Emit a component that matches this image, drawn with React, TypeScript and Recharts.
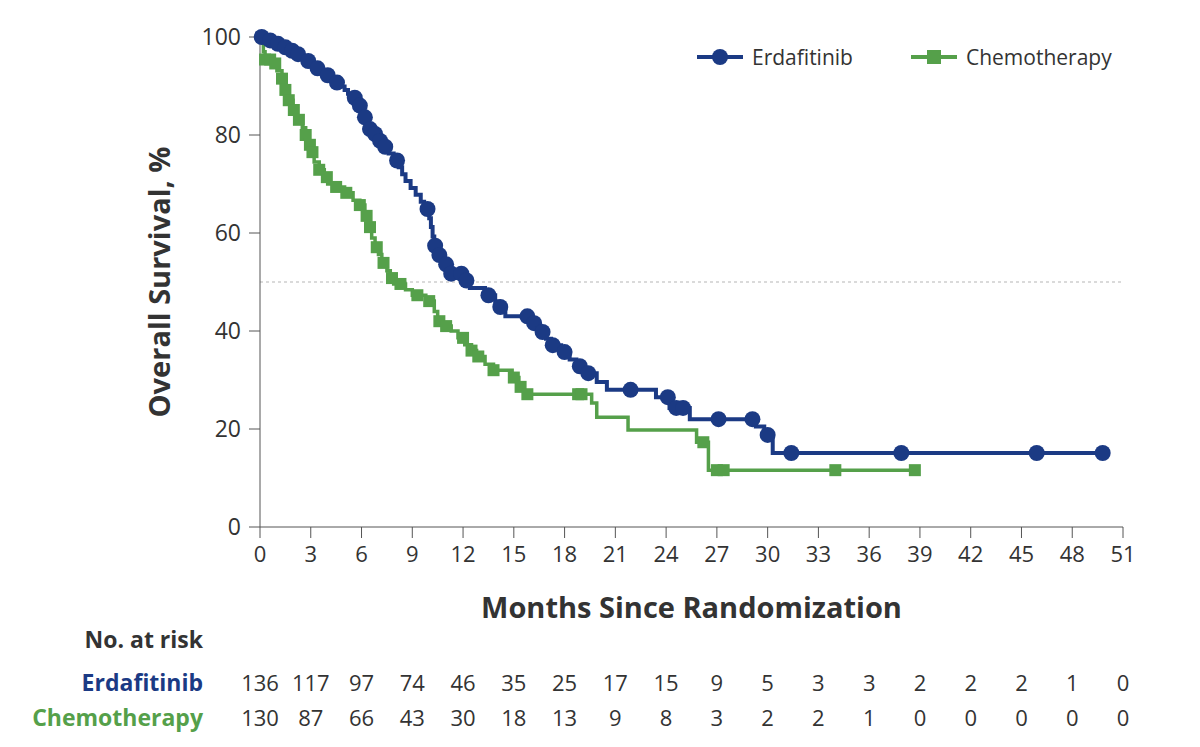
import {
  ComposedChart,
  Line,
  Scatter,
  XAxis,
  YAxis,
  ReferenceLine,
} from 'recharts';

const BLUE = '#1b3a84';
const GREEN = '#55a04a';
const TEXT = '#333333';

// x axis ticks (months)
const months = [0, 3, 6, 9, 12, 15, 18, 21, 24, 27, 30, 33, 36, 39, 42, 45, 48, 51];
const survivalTicks = [0, 20, 40, 60, 80, 100];

// number at risk, one value per month tick
const erdaRisk = [136, 117, 97, 74, 46, 35, 25, 17, 15, 9, 5, 3, 3, 2, 2, 2, 1, 0];
const chemoRisk = [130, 87, 66, 43, 30, 18, 13, 9, 8, 3, 2, 2, 1, 0, 0, 0, 0, 0];

// Kaplan-Meier steps: [month, survival % from that month on]
const erdaSteps: [number, number][] = [
  [0, 100], [0.4, 99.3], [0.9, 98.6], [1.3, 97.9], [1.7, 97.2], [2.1, 96.5],
  [2.5, 95.8], [2.7, 95.1], [3.1, 94.4], [3.3, 93.6], [3.6, 92.9], [3.8, 92.2],
  [4.2, 91.4], [4.4, 90.7], [4.8, 89.9], [5.0, 89.2], [5.2, 88.4], [5.5, 87.6],
  [5.8, 86.0], [6.0, 84.4], [6.15, 83.6], [6.3, 82.0], [6.45, 81.2], [6.6, 80.2],
  [7.0, 78.8], [7.3, 77.6], [7.6, 76.2], [7.9, 74.8], [8.2, 73.4], [8.4, 72.0],
  [8.6, 70.6], [8.9, 69.2], [9.2, 67.8], [9.5, 66.4], [9.7, 64.9], [10.0, 63.0],
  [10.1, 61.2], [10.2, 59.3], [10.3, 57.4], [10.5, 55.5], [10.8, 53.6], [11.1, 51.7],
  [12.1, 50.3], [12.4, 48.8], [13.3, 47.3], [13.9, 46.0], [14.1, 44.9], [14.5, 43.0],
  [16.0, 41.6], [16.5, 39.8], [16.9, 38.4], [17.2, 37.1], [17.8, 35.7], [18.3, 34.2],
  [18.7, 32.8], [19.2, 31.4], [19.9, 29.6], [20.5, 28.0], [23.4, 26.5], [24.2, 24.3],
  [25.4, 22.0], [29.3, 20.5], [29.8, 18.8], [30.3, 15.1], [49.8, 15.1],
];
const erdaCensored = [
  0.1, 0.6, 1.06, 1.5, 1.9, 2.25, 2.85, 3.4, 4.0, 4.55, 5.6, 5.9, 6.2, 6.5, 6.8,
  7.1, 7.4, 8.1, 9.9, 10.35, 10.6, 11.0, 11.3, 11.9, 12.2, 13.5, 14.2, 15.8, 16.2,
  16.7, 17.3, 18.0, 18.9, 19.4, 21.9, 24.1, 24.6, 25.0, 27.1, 29.1, 30.0, 31.4,
  37.9, 45.9, 49.8,
];

const chemoSteps: [number, number][] = [
  [0, 100], [0.2, 97.0], [0.3, 95.4], [0.7, 94.6], [1.0, 93.1], [1.3, 91.5],
  [1.5, 89.2], [1.65, 87.1], [1.95, 85.1], [2.2, 83.1], [2.5, 81.5], [2.7, 80.0],
  [2.9, 78.0], [3.05, 76.5], [3.2, 74.5], [3.5, 72.9], [3.8, 71.4], [4.0, 70.0],
  [4.5, 69.4], [5.0, 68.2], [5.5, 66.7], [5.9, 65.7], [6.2, 63.5], [6.4, 61.2],
  [6.6, 59.0], [6.8, 57.1], [7.0, 55.6], [7.2, 53.9], [7.5, 52.3], [7.7, 50.8],
  [7.9, 49.6], [8.6, 48.4], [9.0, 47.3], [9.8, 46.1], [10.3, 44.0], [10.5, 42.0],
  [10.8, 41.0], [11.3, 40.0], [11.7, 38.6], [12.1, 37.2], [12.5, 36.0], [12.8, 34.8],
  [13.3, 33.2], [13.8, 32.0], [14.9, 30.5], [15.3, 28.6], [15.6, 27.1], [19.6, 25.3],
  [19.9, 22.4], [21.75, 19.8], [25.8, 17.3], [26.5, 11.6], [38.7, 11.6],
];
const chemoCensored = [
  0.3, 0.6, 0.9, 1.3, 1.5, 1.7, 2.0, 2.3, 2.7, 2.95, 3.1, 3.5, 3.95, 4.5, 5.1,
  5.9, 6.3, 6.5, 6.9, 7.3, 7.8, 8.3, 9.3, 10.0, 10.6, 11.0, 12.0, 12.5, 12.9,
  13.8, 15.0, 15.4, 15.8, 18.8, 19.0, 26.2, 27.0, 27.4, 34.0, 38.7,
];

const toPoints = (steps: [number, number][]) => steps.map(([t, s]) => ({ t, s }));

// censored marks sit on the curve: look up the step level at that month
const levelAt = (steps: [number, number][], m: number) => {
  let s = steps[0][1];
  for (const [t, v] of steps) {
    if (t <= m) s = v;
  }
  return s;
};
const censorPoints = (steps: [number, number][], times: number[]) =>
  times.map((t) => ({ t, s: levelAt(steps, t) }));

const erdaLine = toPoints(erdaSteps);
const chemoLine = toPoints(chemoSteps);
const erdaMarks = censorPoints(erdaSteps, erdaCensored);
const chemoMarks = censorPoints(chemoSteps, chemoCensored);

const MonthTick = (props: any) => {
  const { x, y, payload, index } = props;
  return (
    <g fontFamily="Open Sans" fill={TEXT}>
      <text x={x} y={y + 24} textAnchor="middle" fontSize={22} fill={TEXT}>
        {payload.value}
      </text>
      <text x={x} y={y + 153} textAnchor="middle" fontSize={22} fill={TEXT}>
        {erdaRisk[index]}
      </text>
      <text x={x} y={y + 188} textAnchor="middle" fontSize={22} fill={TEXT}>
        {chemoRisk[index]}
      </text>
      {index === 0 && (
        <g fontWeight={700} fontSize={23} textAnchor="end">
          <text x={x - 57} y={y + 110} fill={TEXT}>No. at risk</text>
          <text x={x - 57} y={y + 153} fill={BLUE}>Erdafitinib</text>
          <text x={x - 57} y={y + 188} fill={GREEN}>Chemotherapy</text>
        </g>
      )}
    </g>
  );
};

const Circle = (p: any) => <circle cx={p.cx} cy={p.cy} r={8} fill={BLUE} />;
const Square = (p: any) => <rect x={p.cx - 6} y={p.cy - 6} width={12} height={12} fill={GREEN} />;

function LegendBox() {
  const item = (color: string, label: string, mark: 'circle' | 'square') => (
    <div style={{ display: 'flex', alignItems: 'center', marginRight: 57 }}>
      <svg width={48} height={20}>
        <line x1={1} y1={10} x2={47} y2={10} stroke={color} strokeWidth={4} />
        {mark === 'circle' ? (
          <circle cx={24} cy={10} r={8} fill={color} />
        ) : (
          <rect x={17} y={3} width={14} height={14} fill={color} />
        )}
      </svg>
      <span style={{ marginLeft: 8, fontSize: 21, color: TEXT }}>{label}</span>
    </div>
  );
  return (
    <div
      style={{
        position: 'absolute',
        left: 696,
        top: 43,
        display: 'flex',
        fontFamily: 'Open Sans',
      }}
    >
      {item(BLUE, 'Erdafitinib', 'circle')}
      {item(GREEN, 'Chemotherapy', 'square')}
    </div>
  );
}

export default function App() {
  return (
    <div
      style={{
        position: 'absolute',
        left: 0,
        top: 0,
        width: 1200,
        height: 747,
        background: '#fff',
        fontFamily: 'Open Sans',
      }}
    >
      <ComposedChart
        width={1200}
        height={747}
        margin={{ top: 37, right: 77, left: 140, bottom: 120 }}
      >
        <XAxis
          type="number"
          dataKey="t"
          domain={[0, 51]}
          ticks={months}
          interval={0}
          height={100}
          tickSize={11}
          tickMargin={0}
          axisLine={{ stroke: '#555' }}
          tickLine={{ stroke: '#555' }}
          tick={<MonthTick />}
          label={{
            value: 'Months Since Randomization',
            position: 'insideBottom',
            offset: 9,
            style: { fontSize: 29, fontWeight: 700, fill: TEXT, fontFamily: 'Open Sans' },
          }}
        />
        <YAxis
          type="number"
          dataKey="s"
          domain={[0, 100]}
          ticks={survivalTicks}
          interval={0}
          width={120}
          tickSize={11}
          tickMargin={8}
          axisLine={{ stroke: '#555' }}
          tickLine={{ stroke: '#555' }}
          tick={{ fontSize: 23, fill: TEXT, fontFamily: 'Open Sans' }}
          label={{
            value: 'Overall Survival, %',
            angle: -90,
            position: 'insideLeft',
            offset: 20,
            style: {
              textAnchor: 'middle',
              fontSize: 29,
              fontWeight: 700,
              fill: TEXT,
              fontFamily: 'Open Sans',
            },
          }}
        />
        <ReferenceLine y={50} stroke="#b5b5b5" strokeDasharray="3 3" strokeWidth={1} />
        <Line
          data={chemoLine}
          dataKey="s"
          type="stepAfter"
          stroke={GREEN}
          strokeWidth={3.5}
          dot={false}
          activeDot={false}
          isAnimationActive={false}
        />
        <Scatter
          data={chemoMarks}
          dataKey="s"
          fill={GREEN}
          shape={<Square />}
          isAnimationActive={false}
        />
        <Line
          data={erdaLine}
          dataKey="s"
          type="stepAfter"
          stroke={BLUE}
          strokeWidth={4}
          dot={false}
          activeDot={false}
          isAnimationActive={false}
        />
        <Scatter
          data={erdaMarks}
          dataKey="s"
          fill={BLUE}
          shape={<Circle />}
          isAnimationActive={false}
        />
      </ComposedChart>
      <LegendBox />
    </div>
  );
}
